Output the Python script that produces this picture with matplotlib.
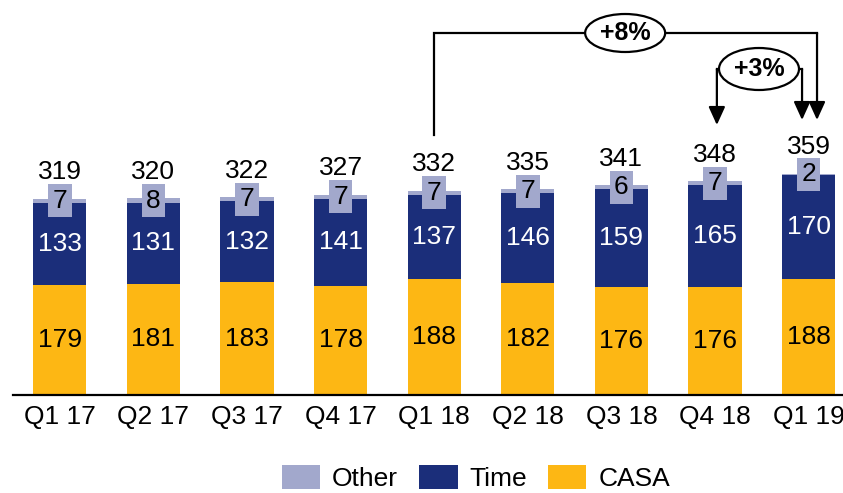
import matplotlib
matplotlib.use("Agg")
import matplotlib.pyplot as plt
from matplotlib.patches import Ellipse, Patch

plt.rcParams['font.family'] = ['Liberation Sans', 'DejaVu Sans']

categories = ["Q1 17", "Q2 17", "Q3 17", "Q4 17", "Q1 18", "Q2 18", "Q3 18", "Q4 18", "Q1 19"]
casa = [179, 181, 183, 178, 188, 182, 176, 176, 188]
time_dep = [133, 131, 132, 141, 137, 146, 159, 165, 170]
other = [7, 8, 7, 7, 7, 7, 6, 7, 2]
totals = [319, 320, 322, 327, 332, 335, 341, 348, 359]
growth_labels = ["+8%", "+3%"]

c_casa = "#FDB714"
c_time = "#1B2E7A"
c_other = "#A2A8CC"

W, H = 843, 493
fig = plt.figure(figsize=(W / 100, H / 100), dpi=100)
base_px = 395
px_per_unit = 0.615
ax = fig.add_axes([13 / W, (H - base_px) / H, 1 - 13 / W, base_px / H])
x = list(range(len(categories)))
ax.set_xlim(-0.5, -0.5 + (W - 13) / 93.6)
ax.set_ylim(0, base_px / px_per_unit)

bw = 0.57
ax.bar(x, casa, width=bw, color=c_casa, zorder=2)
ax.bar(x, time_dep, width=bw, bottom=casa, color=c_time, zorder=2)
bot2 = [a + b for a, b in zip(casa, time_dep)]
ax.bar(x, other, width=bw, bottom=bot2, color=c_other, zorder=2)

fs = 19
for i in x:
    ax.text(i, casa[i] / 2, str(casa[i]), ha='center', va='center', fontsize=fs, color='black', zorder=3)
    ax.text(i, casa[i] + time_dep[i] / 2, str(time_dep[i]), ha='center', va='center', fontsize=fs, color='white', zorder=3)
    ytop = bot2[i] + other[i]
    ax.text(i, bot2[i] + other[i] / 2, str(other[i]), ha='center', va='center', fontsize=fs, color='black', zorder=4,
            bbox=dict(boxstyle='square,pad=0.17', facecolor=c_other, edgecolor='none'))
    ax.annotate(str(totals[i]), xy=(i, ytop), xytext=(0, 14), textcoords='offset points',
                ha='center', va='baseline', fontsize=fs, color='black', zorder=4)

# spines / ticks
for s in ['top', 'right', 'left']:
    ax.spines[s].set_visible(False)
ax.spines['bottom'].set_linewidth(1.6)
ax.spines['bottom'].set_color('black')
ax.set_yticks([])
ax.set_xticks(x)
ax.set_xticklabels(categories, fontsize=fs)
ax.tick_params(axis='x', length=0, pad=7)

def px2y(py):
    return (base_px - py) / px_per_unit

lw = 1.6
arrow_kw = dict(arrowstyle='-|>,head_length=0.55,head_width=0.25', lw=lw, color='black',
                mutation_scale=20, shrinkA=0, shrinkB=0)

# +8% bracket: Q1 18 -> Q1 19
y8 = px2y(33)
x_l8 = 4
x_r8 = 8.09
ax.plot([x_l8, x_l8, x_r8], [px2y(135), y8, y8], color='black', lw=lw, zorder=5, solid_joinstyle='miter')
ax.annotate('', xy=(x_r8, px2y(120)), xytext=(x_r8, y8), arrowprops=arrow_kw, zorder=5)
e8 = Ellipse((6.04, y8), width=80 / 93.6, height=38 / px_per_unit, facecolor='white', edgecolor='black', lw=lw, zorder=6)
ax.add_patch(e8)
ax.text(6.04, y8, growth_labels[0], ha='center', va='center', fontsize=18, fontweight='bold', zorder=7)

# +3% bracket: Q4 18 -> Q1 19
y3 = px2y(69)
x_l3 = 7.02
x_r3 = 7.93
ax.annotate('', xy=(x_l3, px2y(125)), xytext=(x_l3, y3), arrowprops=arrow_kw, zorder=5)
ax.plot([x_l3, x_r3], [y3, y3], color='black', lw=lw, zorder=5)
ax.annotate('', xy=(x_r3, px2y(120)), xytext=(x_r3, y3), arrowprops=arrow_kw, zorder=5)
e3 = Ellipse((7.47, y3), width=80 / 93.6, height=42 / px_per_unit, facecolor='white', edgecolor='black', lw=lw, zorder=6)
ax.add_patch(e3)
ax.text(7.47, y3, growth_labels[1], ha='center', va='center', fontsize=18, fontweight='bold', zorder=7)

for a in ax.patches:
    a.set_clip_on(False)

handles = [Patch(facecolor=c_other, label='Other'), Patch(facecolor=c_time, label='Time'), Patch(facecolor=c_casa, label='CASA')]
fig.legend(handles=handles, loc='center', bbox_to_anchor=(476 / W, 1 - 478 / H), ncol=3, frameon=False,
           fontsize=fs, handlelength=1.45, handleheight=1.0, handletextpad=0.45, columnspacing=0.8,
           borderpad=0, borderaxespad=0)

fig.savefig('out.png', dpi=100)
